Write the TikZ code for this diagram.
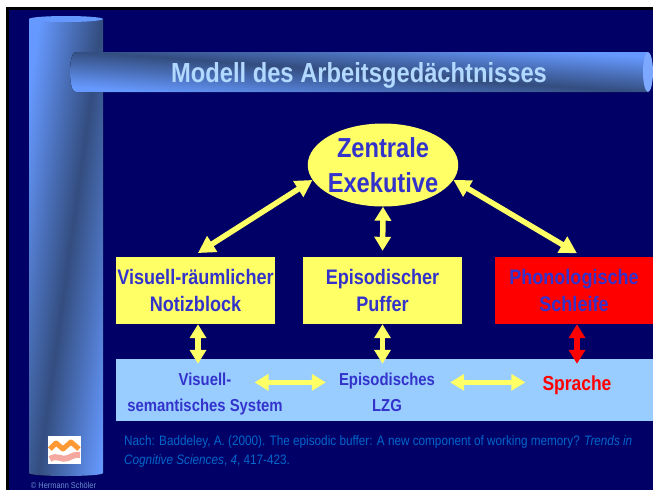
\documentclass[tikz,border=0pt]{standalone}
\usepackage{fontspec}
\setmainfont[FakeStretch=0.86]{Liberation Sans}
\usepackage{tikz}
\usetikzlibrary{positioning}
\usetikzlibrary{shapes,arrows.meta}
\definecolor{navy}{HTML}{000066}
\definecolor{pale}{HTML}{6699FF}
\definecolor{dusk}{HTML}{334D7F}
\definecolor{lemon}{HTML}{FFFF66}
\definecolor{sky}{HTML}{99CCFF}
\definecolor{ink}{HTML}{3333CC}
\definecolor{cite}{HTML}{0066CC}
\definecolor{peach}{HTML}{F4A8A0}
\definecolor{amber}{HTML}{FF9933}
\pgfdeclarehorizontalshading{pillarshade}{100bp}{color(0bp)=(pale); color(44bp)=(pale); color(50bp)=(dusk); color(56bp)=(pale); color(100bp)=(pale)}
\pgfdeclarehorizontalshading{tubeshade}{100bp}{color(0bp)=(pale); color(47bp)=(pale); color(50bp)=(dusk); color(53bp)=(pale); color(100bp)=(pale)}
\tikzset{
  box/.style={rectangle, minimum width=159pt, minimum height=67pt, inner sep=0pt, align=center, text=ink, font=\fontsize{21}{27}\selectfont\bfseries},
  tag/.style={anchor=base, inner sep=0pt, text=ink, font=\fontsize{17.3}{20}\selectfont\bfseries},
  dbl/.style={{Triangle[width=16pt,length=14pt]}-{Triangle[width=16pt,length=14pt]}, line width=5.5pt, lemon},
  dbldiag/.style={{Triangle[width=18pt,length=17pt]}-{Triangle[width=18pt,length=17pt]}, line width=5.5pt, lemon}
}
\begin{document}
\begin{tikzpicture}[x=1pt,y=-1pt]
  \useasboundingbox (0,0) rectangle (653,490);
  % Background
  \fill[white] (0,0) rectangle (653,490);
  \fill[black] (6,7) rectangle (653,490);
  \fill[navy] (9,10) rectangle (653,490);

  % Pillar
  \begin{scope}
    \clip (29,19) -- (29,473) .. controls (29,477) and (103,477) .. (103,473) -- (103,19) -- cycle;
    \fill[shading=pillarshade, shading angle=-8] (-190,-14) rectangle (330,506);
  \end{scope}
  \fill[pale] (66,19) ellipse [x radius=37pt, y radius=3pt];

  % Title bar
  \begin{scope}
    \clip (76,52) -- (648,52) -- (648,92) -- (76,92) .. controls (68,92) and (68,52) .. (76,52);
    \fill[shading=tubeshade, shading angle=85.8] (62,-228) rectangle (662,372);
  \end{scope}
  \fill[pale!85!white] (648,72) ellipse [x radius=5pt, y radius=20pt];
  \node[text=sky!75!white, font=\fontsize{27.6}{30}\selectfont\bfseries] (title) at (359,75) {Modell des Arbeitsged\"achtnisses};

  % Logo
  \fill[white] (48,436) rectangle (81,464);
  \draw[amber, line width=5pt, line join=round] (50,449) -- (56,443) -- (63,449) -- (71,442) -- (79,449);
  \draw[peach, line width=6pt] (50,459) .. controls (57,454) and (62,461) .. (68,458) .. controls (72,456) and (76,454) .. (80,455);

  % Nodes
  \node[ellipse, fill=lemon, minimum width=149pt, minimum height=83pt, inner xsep=-2pt, inner ysep=-3pt, align=center, text=ink, font=\fontsize{27.5}{35}\selectfont\bfseries] (zentrale) at (383,165) {Zentrale\\Exekutive};
  \node[box, fill=lemon] (notiz) at (195.5,290.5) {Visuell-r\"aumlicher\\Notizblock};
  \node[box, fill=lemon] (puffer) at (382.5,290.5) {Episodischer\\Puffer};
  \node[box, fill=red, minimum width=158pt] (schleife) at (574,290.5) {Phonologische\\Schleife};
  \node[rectangle, fill=sky, minimum width=537pt, minimum height=62pt, inner sep=0pt] (band) at (384.5,390) {};
  \node[tag] (visuell) at (205,385) {Visuell-};
  \node[tag] (semantik) at (205,411) {semantisches System};
  \node[tag] (episodisch) at (387,385) {Episodisches};
  \node[tag] (lzg) at (387,411) {LZG};
  \node[tag, text=red, font=\fontsize{20.3}{24}\selectfont\bfseries] (sprache) at (577,390) {Sprache};

  % Arrows
  \draw[dbldiag, shorten >=7pt] (zentrale.192) -- ([xshift=-3.5pt]notiz.north);
  \draw[dbldiag, shorten >=7pt] (zentrale.-12) -- ([xshift=9pt]schleife.north);
  \draw[dbl, shorten >=6pt] (zentrale.south) -- (puffer.north);
  \draw[dbl, shorten >=-5pt] ([xshift=2.5pt]notiz.south) -- ([xshift=2.5pt]notiz.south |- band.north);
  \draw[dbl, shorten >=-5pt] (puffer.south) -- (puffer.south |- band.north);
  \draw[dbl, red, shorten >=-5pt] (sprache |- schleife.south) -- (sprache |- band.north);
  \draw[dbl, shorten <=23pt, shorten >=13pt] (visuell.mid east) -- (episodisch.mid west);
  \draw[dbl, shorten <=15pt, shorten >=17pt] (episodisch.mid east) -- (episodisch.mid east -| sprache.west);

  % Citation
  \node[anchor=west, inner sep=0pt, align=left, text=cite, font=\fontsize{13.65}{19}\selectfont] (quelle) at (124,451.5) {Nach: Baddeley, A. (2000). The episodic buffer: A new component of working memory? \textit{Trends in}\\\textit{Cognitive Sciences}, \textit{4}, 417-423.};
  \node[text=sky!70!navy, inner sep=0pt, font=\fontsize{8.6}{9}\selectfont] (autor) at (63.5,485.5) {\textcopyright{} Hermann Sch\"oler};
\end{tikzpicture}
\end{document}
